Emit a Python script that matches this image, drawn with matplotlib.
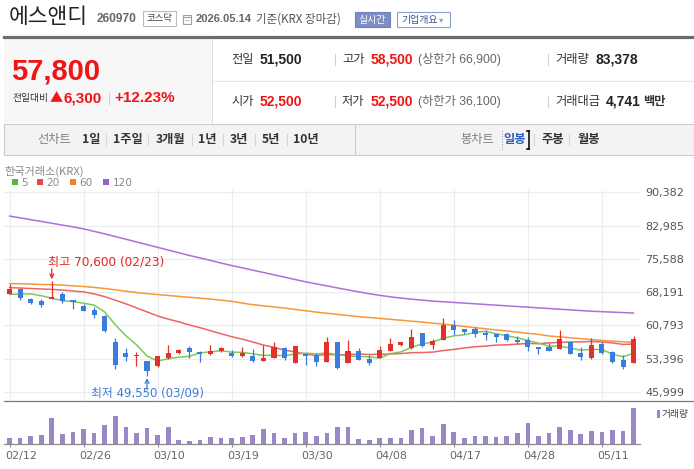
import matplotlib
matplotlib.use("Agg")
import matplotlib.pyplot as plt
from matplotlib.patches import Rectangle
from matplotlib.lines import Line2D
from matplotlib.transforms import ScaledTranslation
import numpy as np

# ---------------------------------------------------------------------------
# Data (daily candles, 2026-02-12 .. 2026-05-14)
# ---------------------------------------------------------------------------

dates = ['02/12', '02/13', '02/19', '02/20', '02/23', '02/24', '02/25', '02/26',
         '02/27', '03/03', '03/04', '03/05', '03/06', '03/09', '03/10', '03/11',
         '03/12', '03/13', '03/16', '03/17', '03/18', '03/19', '03/20', '03/23',
         '03/24', '03/25', '03/26', '03/27', '03/30', '03/31', '04/01', '04/02',
         '04/03', '04/06', '04/07', '04/08', '04/09', '04/10', '04/13', '04/14',
         '04/15', '04/16', '04/17', '04/20', '04/21', '04/22', '04/23', '04/24',
         '04/27', '04/28', '04/29', '04/30', '05/04', '05/06', '05/07', '05/08',
         '05/11', '05/12', '05/13', '05/14']

opens = [67700, 69000, 66600, 66200, 66600, 67800, 66400, 65100, 64200, 62800,
         57200, 54600, 53900, 52800, 51700, 53600, 54700, 55800, 54900, 54500,
         55000, 54600, 54100, 54000, 52900, 53500, 55700, 52400, 54400, 54200,
         52700, 57000, 52500, 55100, 53300, 53600, 55100, 56500, 55700, 59000,
         56500, 57600, 61000, 60100, 60100, 59000, 58800, 58800, 57600, 57600,
         56000, 55900, 55500, 57100, 54600, 53600, 56600, 54800, 53200, 52500]
highs = [70000, 69000, 66800, 66600, 70600, 68200, 66500, 65600, 64800, 63100,
         58000, 55800, 54800, 52800, 54000, 56500, 55600, 56200, 55200, 56500,
         56000, 55400, 56100, 55600, 56500, 57000, 55900, 56300, 54600, 54700,
         58200, 57000, 57500, 55800, 54200, 56300, 58000, 57000, 59900, 59000,
         57700, 62400, 62100, 60100, 60400, 59800, 58900, 59100, 58400, 58200,
         56000, 56900, 59700, 57300, 55900, 58000, 57200, 55200, 54300, 58500]
lows = [67700, 66500, 65600, 64900, 66600, 65700, 64500, 63900, 62400, 59400,
        51200, 52800, 51700, 49550, 51500, 53300, 54500, 53600, 52600, 54300,
        54800, 53700, 53700, 52600, 52900, 53500, 53200, 52400, 52000, 51800,
        52600, 51200, 52500, 53100, 52000, 53600, 55000, 56300, 55600, 56000,
        55600, 57600, 58600, 58800, 58300, 57500, 57000, 57400, 56600, 55100,
        54400, 55000, 55500, 54400, 53200, 53300, 54400, 52500, 51000, 52500]
closes = [69000, 67000, 65700, 65400, 67100, 66300, 65900, 64000, 63200, 59500,
          52100, 53700, 54000, 50700, 53900, 54700, 55400, 54900, 54500, 55200,
          55800, 53900, 54600, 52900, 53500, 55900, 53500, 56300, 54000, 52600,
          57000, 51400, 55200, 53200, 52400, 55300, 56600, 57000, 58300, 56200,
          57400, 60800, 59700, 59400, 58900, 58600, 58200, 57500, 57000, 55900,
          55600, 55000, 57700, 54500, 53700, 56500, 54700, 52700, 51500, 57800]
volumes = [15200, 15200, 19700, 22000, 60700, 24300, 28800, 35700, 26600, 44800,
           65300, 40200, 26600, 37900, 22000, 40200, 10600, 8300, 10600, 17400,
           15200, 15200, 17400, 22000, 35700, 26600, 15200, 26600, 28800, 19700,
           26600, 40200, 40200, 12900, 10600, 15200, 15200, 15200, 33400, 37900,
           19700, 47100, 28800, 15200, 19700, 19700, 17400, 19700, 26600, 49400,
           19700, 26600, 40200, 33400, 24300, 31100, 28800, 33400, 31100, 83378]

ma5 = [67700, 67750, 67800, 67400, 66840, 66300, 66080, 65740, 65300, 63780,
       60940, 58500, 56500, 54000, 52880, 53400, 53740, 53920, 54680, 54940,
       55160, 54860, 54800, 54480, 54140, 54160, 54080, 54420, 54640, 54460,
       54680, 54260, 54040, 53880, 53840, 53500, 54540, 54900, 55920, 56680,
       57100, 57940, 58480, 58700, 59240, 59480, 58960, 58520, 58040, 57440,
       56840, 56200, 56240, 55740, 55300, 55480, 55420, 54420, 53820, 54640]
ma20 = [69200, 69100, 69000, 68900, 68800, 68650, 68450, 68250, 67800, 67200,
        66400, 65600, 64700, 63800, 62900, 62200, 61600, 60900, 60300, 59610,
        58950, 58295, 57740, 57115, 56435, 55915, 55295, 54910, 54450, 54105,
        54350, 54235, 54295, 54420, 54345, 54375, 54435, 54540, 54730, 54780,
        54860, 55205, 55460, 55785, 56055, 56190, 56425, 56485, 56635, 56800,
        56730, 56910, 57030, 57095, 57160, 57220, 57125, 56910, 56570, 56650]
ma60 = [70100, 70050, 70000, 69900, 69850, 69750, 69600, 69450, 69250, 69000,
        68700, 68400, 68100, 67850, 67650, 67450, 67250, 67050, 66850, 66650,
        66400, 66150, 65750, 65400, 65150, 64900, 64650, 64350, 64050, 63750,
        63500, 63250, 63000, 62750, 62550, 62350, 62150, 61950, 61750, 61550,
        61300, 61100, 60850, 60550, 60300, 60050, 59800, 59550, 59300, 59050,
        58800, 58450, 58250, 58050, 57850, 57650, 57450, 57300, 57150, 57050]
ma120 = [85100, 84700, 84300, 83900, 83500, 83100, 82700, 82250, 81700, 81150,
         80550, 79950, 79350, 78750, 78150, 77550, 76950, 76350, 75800, 75250,
         74650, 74100, 73600, 73080, 72560, 72040, 71520, 71000, 70480, 70030,
         69580, 69130, 68690, 68260, 67850, 67480, 67150, 66870, 66630, 66420,
         66200, 66050, 65900, 65750, 65600, 65450, 65300, 65150, 65000, 64850,
         64700, 64550, 64400, 64250, 64100, 63950, 63850, 63750, 63650, 63550]

price_ticks = [45999, 53396, 60793, 68191, 75588, 82985, 90382]
tick_dates = ['02/12', '02/26', '03/10', '03/19', '03/30', '04/08', '04/17', '04/28', '05/11']

ma_labels = ['5', '20', '60', '120']

# ---------------------------------------------------------------------------
# Styling
# ---------------------------------------------------------------------------

W, H = 694, 469
KR = ['Noto Sans CJK KR', 'DejaVu Sans']
NUM = ['Liberation Sans', 'Noto Sans CJK KR']
LAT = ['DejaVu Sans', 'Noto Sans CJK KR']
RED = '#e5251f'
BLUE = '#3a7ddd'
UP = '#e2302a'
DOWN = '#3a7ddd'
MA_COLORS = ['#7cc95a', '#ef6464', '#f5973a', '#ad6fd8']
LEGEND_COLORS = ['#55b83a', '#e84848', '#f0851c', '#9a5ccc']
VOL = '#9b86c6'

fig = plt.figure(figsize=(W / 100, H / 100), dpi=100)
fig.patch.set_facecolor('white')


def box(x0, y0, x1, y1):
    return [x0 / W, 1 - y1 / H, (x1 - x0) / W, (y1 - y0) / H]


def text(x, y, s, size=9, color='#333333', weight='normal', ha='left',
         va='center', family=KR):
    fig.text(x / W, 1 - y / H, s, fontsize=size, color=color, fontweight=weight,
             ha=ha, va=va, family=family)


def rect(x0, y0, x1, y1, fc='none', ec='none', lw=0.8):
    fig.add_artist(Rectangle((x0 / W, 1 - y1 / H), (x1 - x0) / W, (y1 - y0) / H,
                             transform=fig.transFigure, facecolor=fc,
                             edgecolor=ec, linewidth=lw))


def line(x0, y0, x1, y1, color='#dddddd', lw=0.8, ls='-'):
    fig.add_artist(Line2D([x0 / W, x1 / W], [1 - y0 / H, 1 - y1 / H],
                          transform=fig.transFigure, color=color,
                          linewidth=lw, linestyle=ls))


# ---------------------------------------------------------------------------
# Header
# ---------------------------------------------------------------------------

text(9, 17, '에스앤디', size=15.5, color='#222222')
text(97, 19.5, '260970', size=8.6, color='#666666', weight='bold', family=NUM)
rect(143, 11.5, 175.5, 26, fc='white', ec='#bcbcbc')
text(159.3, 18.8, '코스닥', size=6.8, color='#444444', ha='center')
# calendar icon
rect(183, 15, 191, 24, fc='white', ec='#a0a0a0')
line(183, 17.5, 191, 17.5, color='#a0a0a0')
line(185, 20, 189, 20, color='#b0b0b0', lw=0.6)
text(196, 19, '2026.05.14', size=8, color='#666666', weight='bold', family=NUM)
text(256, 19, '기준(KRX 장마감)', size=8.3, color='#555555')
rect(355, 12.5, 390, 27, fc='#7e8ec4', ec='#7082bd')
text(372.5, 19.5, '실시간', size=7.2, color='white', ha='center')
rect(397, 12.5, 450, 27, fc='white', ec='#8e9dd0')
text(401, 19.5, '기업개요', size=7.2, color='#42558f')
text(441, 19.5, '▾', size=6, color='#8e9dd0', ha='center')

line(4, 37.3, 694, 37.3, color='#696c70', lw=2.3)

# price box
rect(4, 38.7, 212, 123, fc='#f7f7f7')
line(212, 38.7, 212, 123, color='#dedede')
text(11, 71, '57,800', size=21, color='#f01414', weight='bold', family=NUM)
text(12, 98.5, '전일대비', size=7, color='#333333')
text(49.5, 98.5, '▲', size=9.5, color='#f01414')
text(63.5, 98.5, '6,300', size=11, color='#f01414', weight='bold', family=NUM)
line(109, 93, 109, 104, color='#d0d0d0')
text(114, 98.5, '+12.23%', size=11, color='#f01414', weight='bold', family=NUM)

# quote table
line(213, 81, 694, 81, color='#e6e6e6')
rows = [(59.5, [('전일', '51,500', '#222222', None), ('고가', '58,500', '#f01414', '(상한가 66,900)'),
                ('거래량', '83,378', '#222222', None)]),
        (101.5, [('시가', '52,500', '#f01414', None), ('저가', '52,500', '#f01414', '(하한가 36,100)'),
                 ('거래대금', '4,741', '#222222', '백만')])]
cols = [(231, 260), (342, 371), (555, None)]
for y, items in rows:
    for (x0, xv), (lab, val, col, extra) in zip(cols, items):
        text(x0, y, lab, size=8.8, color='#333333')
        if xv is None:
            xv = 595 if lab == '거래량' else 606
        text(xv, y, val, size=10, color=col, weight='bold', family=NUM)
        if extra == '백만':
            text(643, y, extra, size=8.8, color='#333333', weight='bold')
        elif extra:
            text(418, y, extra, size=8.8, color='#666666', family=NUM)
    line(335, y - 5.5, 335, y + 5.5, color='#d0d0d0')
    line(548, y - 5.5, 548, y + 5.5, color='#d0d0d0')

# tab bar
rect(4, 124, 694, 155, fc='#f3f3f5', ec='#cdcdcd')
line(354.5, 124, 354.5, 155, color='#cdcdcd')
text(37, 139.5, '선차트', size=8.8, color='#808080')
tabs = [(82, '1일'), (113, '1주일'), (156, '3개월'), (198, '1년'), (230, '3년'),
        (262, '5년'), (293, '10년')]
for x, s in tabs:
    text(x, 139.5, s, size=8.8, color='#333333', weight='bold')
for x in [106, 148, 191.5, 223, 255, 287]:
    line(x, 134, x, 145, color='#d6d6d6')
text(460, 139.5, '봉차트', size=8.8, color='#808080')
text(503, 139.5, '일봉', size=8.8, color='#2b5cbf', weight='bold')
line(501.5, 131, 501.5, 149, color='#777777', lw=0.6, ls=(0, (1, 2)))
line(529, 131, 529, 149, color='#111111', lw=1.2)
line(527, 131, 529, 131, color='#111111', lw=1.2)
line(527, 149, 529, 149, color='#111111', lw=1.2)
line(534, 134, 534, 145, color='#d6d6d6')
text(541, 139.5, '주봉', size=8.8, color='#333333', weight='bold')
line(569, 134, 569, 145, color='#d6d6d6')
text(577, 139.5, '월봉', size=8.8, color='#333333', weight='bold')

# chart legend
text(4, 171.5, '한국거래소(KRX)', size=8, color='#8a8a8a')
leg_x = [11.5, 36.5, 70, 103]
for x, c, lab in zip(leg_x, LEGEND_COLORS, ma_labels):
    rect(x, 179, x + 6, 185.5, fc=c)
    text(x + 9.5, 182.8, lab, size=7.6, color='#8a8a8a', family=['DejaVu Sans'])

# ---------------------------------------------------------------------------
# Price panel
# ---------------------------------------------------------------------------

xs = np.arange(len(dates))
o = np.array(opens)
c = np.array(closes)
hi = np.array(highs)
lo = np.array(lows)
up = c >= o
colors = np.where(up, UP, DOWN)

ax = fig.add_axes(box(4, 190, 640, 401))
ax.set_xlim(-0.52, 59.6)
ax.set_ylim(43998, 90893)
for sp in ax.spines.values():
    sp.set_visible(False)

tick_pos = [dates.index(d) for d in tick_dates]
ax.set_yticks(price_ticks)
ax.set_yticklabels([f'{v:,}' for v in price_ticks])
ax.yaxis.tick_right()
ax.tick_params(axis='y', length=0, pad=4, labelsize=8, labelcolor='#555555')
ax.set_xticks(tick_pos)
ax.tick_params(axis='x', length=0, labelbottom=False)
ax.grid(True, color='#ececec', linewidth=0.8)
ax.set_axisbelow(True)

for ma, col in zip([ma120, ma60, ma20, ma5], MA_COLORS[::-1]):
    ax.plot(xs, ma, color=col, linewidth=1.1, zorder=2, solid_capstyle='round')

ax.vlines(xs, lo, hi, colors=colors, linewidth=0.9, zorder=3)
body_lo = np.minimum(o, c)
body_h = np.maximum(np.abs(c - o), 250)
ax.bar(xs, body_h, bottom=body_lo, width=0.48, color=colors, linewidth=0, zorder=4)

# high / low markers
hi_i = int(np.argmax(hi))
lo_i = int(np.argmin(lo))
ax.annotate('', xy=(hi_i, hi[hi_i]), xytext=(0, 9), textcoords='offset points',
            arrowprops=dict(arrowstyle='->', color=RED, lw=0.9, shrinkA=0, shrinkB=1.5,
                            mutation_scale=7))
ax.annotate(f'최고 {hi[hi_i]:,} ({dates[hi_i]})', xy=(hi_i, hi[hi_i]), xytext=(-3, 14),
            textcoords='offset points', ha='left', va='center', fontsize=8.7,
            color=RED, family=LAT)
ax.annotate('', xy=(lo_i, lo[lo_i]), xytext=(0, -10), textcoords='offset points',
            arrowprops=dict(arrowstyle='->', color=BLUE, lw=0.9, shrinkA=0, shrinkB=1.5,
                            mutation_scale=7))
ax.annotate(f'최저 {lo[lo_i]:,} ({dates[lo_i]})', xy=(lo_i, lo[lo_i]), xytext=(0, -12.5),
            textcoords='offset points', ha='center', va='center', fontsize=8.5,
            color=BLUE, family=LAT)

# ---------------------------------------------------------------------------
# Volume panel
# ---------------------------------------------------------------------------

vax = fig.add_axes(box(4, 401, 640, 444.3))
vax.set_xlim(-0.52, 59.6)
vax.set_ylim(0, 98640)
vax.bar(xs, volumes, width=0.44, color=VOL, linewidth=0)
for k in ['top', 'left', 'right']:
    vax.spines[k].set_visible(False)
vax.spines['bottom'].set_color('#8a8a8a')
vax.spines['bottom'].set_linewidth(0.9)
vax.set_yticks([])
vax.set_xticks(tick_pos)
vax.set_xticklabels(tick_dates)
vax.tick_params(axis='x', length=2.5, width=0.8, color='#8a8a8a', pad=2.5,
                labelsize=8, labelcolor='#666666')
# date labels start a few pixels left of their tick, as in the widget
shift = ScaledTranslation(-4.5 / 100, 0, fig.dpi_scale_trans)
for lab in vax.get_xticklabels():
    lab.set_horizontalalignment('left')
    lab.set_transform(lab.get_transform() + shift)

line(4, 401, 694, 401, color='#7c7c7c', lw=0.9)
rect(656.7, 410, 660, 417.7, fc=VOL)
text(662, 413.8, '거래량', size=7, color='#444444')

fig.savefig('out.png', dpi=100, facecolor='white')
